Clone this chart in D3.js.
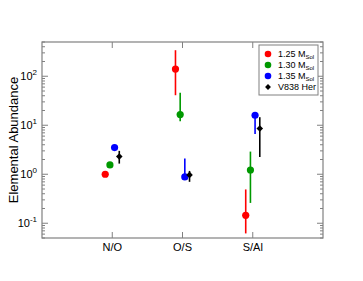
<!DOCTYPE html>
<meta charset="utf-8">
<style>
    body { margin: 0; background: #fff; }
    text { font-family: "Liberation Sans", Arial, sans-serif; }
</style>
<svg width="363" height="281"></svg>
<script src="https://d3js.org/d3.v7.min.js"></script>
<script>
    // ratios on the x axis
    var ratios = ["N/O", "O/S", "S/Al"];

    // series
    var seriesNames = ["1.25 M", "1.30 M", "1.35 M", "V838 Her"];
    var seriesColors = ["#ff0000", "#009900", "#0000ff", "#000000"];
    var offsets = [-0.1, -0.033, 0.033, 0.1];

    var val125 = [1.0, 140, 0.145];
    var lo125  = [null, 41, 0.062];
    var hi125  = [null, 340, 0.49];

    var val130 = [1.55, 16.5, 1.22];
    var lo130  = [null, 12, 0.26];
    var hi130  = [null, 46, 2.9];

    var val135 = [3.5, 0.88, 16];
    var lo135  = [null, 0.88, 6.6];
    var hi135  = [null, 2.1, 16];

    var valV838 = [2.3, 0.97, 8.6];
    var loV838  = [1.65, 0.7, 2.25];
    var hiV838  = [3.0, 1.17, 14.6];

    var yTicks = [0.1, 1, 10, 100];
    var yTickExp = ["-1", "0", "1", "2"];

    var svg = d3.select("svg"),
        margin = {left: 42, top: 42, right: 40, bottom: 43},
        width = +svg.attr("width") - margin.left - margin.right,
        height = +svg.attr("height") - margin.top - margin.bottom;

    var x = d3.scaleLinear().domain([0, 4]).range([0, width]);
    var y = d3.scaleLog().domain([0.05, 500]).range([height, 0]);

    var g = svg.append("g").attr("transform", "translate(" + margin.left + "," + margin.top + ")");

    var series = [
        {v: val125, lo: lo125, hi: hi125},
        {v: val130, lo: lo130, hi: hi130},
        {v: val135, lo: lo135, hi: hi135},
        {v: valV838, lo: loV838, hi: hiV838}
    ];

    // minor / major y ticks on both sides
    var minor = [];
    [0.01, 0.1, 1, 10, 100].forEach(function(d) {
        for (var k = 2; k <= 9; k++) {
            var t = d * k;
            if (t >= 0.05 && t <= 500) minor.push(t);
        }
    });
    var frameColor = "#808080";

    [0, width].forEach(function(x0, side) {
        var dir = side === 0 ? 1 : -1;
        g.selectAll(null).data(minor).enter().append("line")
            .attr("x1", x0).attr("x2", x0 + dir * 3)
            .attr("y1", function(d) { return y(d); })
            .attr("y2", function(d) { return y(d); })
            .attr("stroke", frameColor).attr("stroke-width", 1);
        g.selectAll(null).data(yTicks).enter().append("line")
            .attr("x1", x0).attr("x2", x0 + dir * 6)
            .attr("y1", function(d) { return y(d); })
            .attr("y2", function(d) { return y(d); })
            .attr("stroke", frameColor).attr("stroke-width", 1);
    });

    // x ticks bottom and top
    [height, 0].forEach(function(y0, side) {
        var dir = side === 0 ? -1 : 1;
        g.selectAll(null).data(ratios).enter().append("line")
            .attr("x1", function(d, i) { return x(i + 1); })
            .attr("x2", function(d, i) { return x(i + 1); })
            .attr("y1", y0).attr("y2", y0 + dir * 6)
            .attr("stroke", frameColor).attr("stroke-width", 1);
    });

    g.append("rect")
        .attr("width", width).attr("height", height)
        .attr("fill", "none").attr("stroke", frameColor).attr("stroke-width", 1.2);

    // y tick labels
    var yl = g.selectAll(null).data(yTicks).enter().append("text")
        .attr("x", -5)
        .attr("y", function(d) { return y(d) + 4; })
        .attr("text-anchor", "end")
        .attr("font-size", 11);
    yl.append("tspan").text("10");
    yl.append("tspan").attr("dy", -5).attr("font-size", 8).text(function(d, i) { return yTickExp[i]; });

    // x tick labels
    g.selectAll(null).data(ratios).enter().append("text")
        .attr("x", function(d, i) { return x(i + 1); })
        .attr("y", height + 13)
        .attr("text-anchor", "middle")
        .attr("font-size", 11)
        .text(function(d) { return d; });

    svg.append("text")
        .attr("transform", "translate(18," + (margin.top + height / 2) + ") rotate(-90)")
        .attr("text-anchor", "middle")
        .attr("font-size", 13)
        .text("Elemental Abundance");

    // error bars and markers
    series.forEach(function(s, si) {
        var col = seriesColors[si];
        ratios.forEach(function(r, i) {
            var cx = x(i + 1 + offsets[si]);
            if (s.lo[i] !== null) {
                g.append("line")
                    .attr("x1", cx).attr("x2", cx)
                    .attr("y1", y(s.lo[i])).attr("y2", y(s.hi[i]))
                    .attr("stroke", col).attr("stroke-width", 1.6);
            }
            if (si < 3) {
                g.append("circle")
                    .attr("cx", cx).attr("cy", y(s.v[i])).attr("r", 3.6)
                    .attr("fill", col);
            } else {
                g.append("path")
                    .attr("d", d3.symbol().type(d3.symbolDiamond2).size(28)())
                    .attr("transform", "translate(" + cx + "," + y(s.v[i]) + ")")
                    .attr("fill", col);
            }
        });
    });

    // legend
    var lg = g.append("g").attr("transform", "translate(" + (259 - margin.left) + "," + (45 - margin.top) + ")");
    lg.append("rect")
        .attr("width", 59).attr("height", 50)
        .attr("fill", "#fff").attr("stroke", frameColor).attr("stroke-width", 1);
    seriesNames.forEach(function(name, i) {
        var yy = 9 + i * 11;
        if (i < 3) {
            lg.append("circle").attr("cx", 9).attr("cy", yy).attr("r", 3.3).attr("fill", seriesColors[i]);
        } else {
            lg.append("path")
                .attr("d", d3.symbol().type(d3.symbolDiamond2).size(22)())
                .attr("transform", "translate(9," + yy + ")")
                .attr("fill", seriesColors[i]);
        }
        var t = lg.append("text").attr("x", 19).attr("y", yy + 3).attr("font-size", 9).text(name);
        if (i < 3) t.append("tspan").attr("dy", 2).attr("font-size", 6).text("Sol");
    });
</script>
